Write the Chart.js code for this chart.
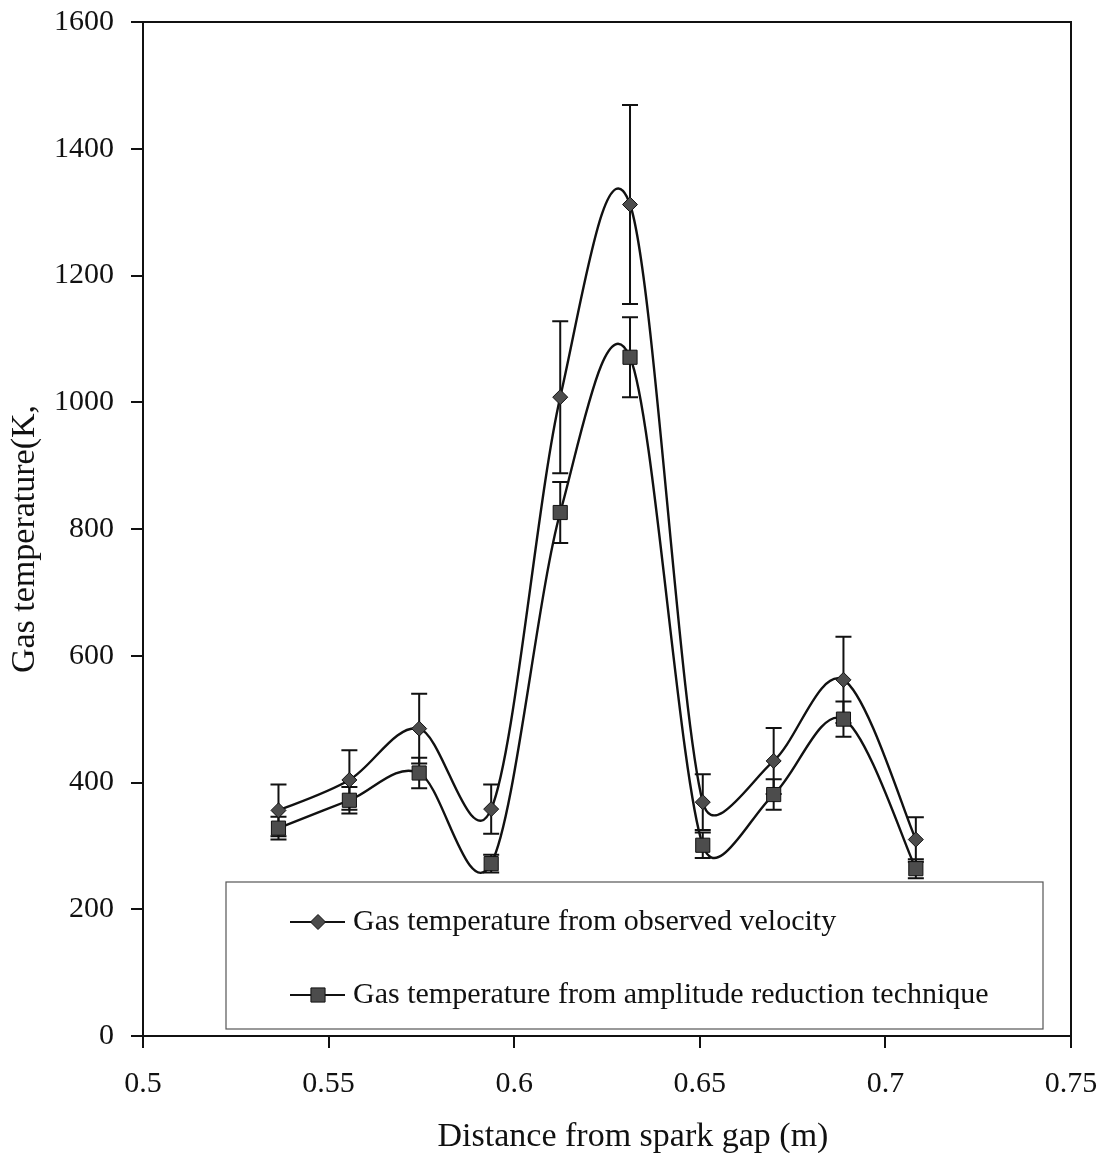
<!DOCTYPE html>
<html>
<head>
<meta charset="utf-8">
<script src="https://cdn.jsdelivr.net/npm/chart.js@4.4.1/dist/chart.umd.min.js"></script>
<style>
  html, body { margin: 0; padding: 0; background: #fff; }
  #wrap { width: 1104px; height: 1153px; position: relative; }
</style>
</head>
<body>
<div id="wrap"><canvas id="chart" width="1104" height="1153"></canvas></div>
<script>
// Measurement positions along the tube (m)
const distance = [0.5365, 0.5556, 0.5744, 0.5938, 0.6124, 0.6312, 0.6508, 0.6699, 0.6887, 0.7082];

// Gas temperature from observed velocity (K) and its error
const tempVelocity = [356, 404, 485, 358, 1008, 1312, 369, 434, 562, 310];
const errVelocity  = [41, 47, 55, 39, 120, 157, 44, 52, 68, 35];

// Gas temperature from amplitude reduction technique (K) and its error
const tempAmplitude = [328, 372, 415, 272, 826, 1071, 301, 381, 500, 264];
const errAmplitude  = [18, 21, 24, 14, 48, 63, 20, 24, 28, 15];

const seriesNames = [
  'Gas temperature from observed velocity',
  'Gas temperature from amplitude reduction technique'
];
const xTickLabels = ['0.5', '0.55', '0.6', '0.65', '0.7', '0.75'];
const yTickLabels = ['0', '200', '400', '600', '800', '1000', '1200', '1400', '1600'];
const xTitle = 'Distance from spark gap (m)';
const yTitle = 'Gas temperature(K,';

const SERIF = '"Liberation Serif", "Times New Roman", serif';
const INK = '#111';
const MARK_FILL = '#4c4c4c';

function pairs(xs, ys) { return xs.map((x, i) => ({ x: x, y: ys[i] })); }

// Spreadsheet-style smoothing: tangent (next - prev) / 6, each control
// handle limited to half the length of the segment it belongs to.
const smoothCurve = {
  id: 'smoothCurve',
  beforeDatasetsDraw(chart) {
    chart.data.datasets.forEach((ds, i) => {
      const meta = chart.getDatasetMeta(i);
      const line = meta.dataset;
      const pts = meta.data;
      const n = pts.length;
      line.updateControlPoints(chart.chartArea, 'x');
      for (let k = 0; k < n - 1; k++) {
        const p0 = pts[Math.max(k - 1, 0)];
        const p1 = pts[k];
        const p2 = pts[k + 1];
        const p3 = pts[Math.min(k + 2, n - 1)];
        const half = Math.hypot(p2.x - p1.x, p2.y - p1.y) / 2;
        let tx = p2.x - p0.x, ty = p2.y - p0.y;
        let len = Math.hypot(tx, ty);
        let f = (len / 6 > half) ? half / len : 1 / 6;
        p1.cp2x = p1.x + tx * f;
        p1.cp2y = p1.y + ty * f;
        tx = p3.x - p1.x; ty = p3.y - p1.y;
        len = Math.hypot(tx, ty);
        f = (len / 6 > half) ? half / len : 1 / 6;
        p2.cp1x = p2.x - tx * f;
        p2.cp1y = p2.y - ty * f;
      }
      line._path = undefined;
    });
  }
};

// Vertical error bars with flat caps
const errorBars = {
  id: 'errorBars',
  beforeDatasetsDraw(chart) {
    const { ctx, scales: { x, y } } = chart;
    ctx.save();
    ctx.strokeStyle = INK;
    ctx.lineWidth = 2;
    chart.data.datasets.forEach((ds) => {
      ds.data.forEach((pt, j) => {
        const e = ds.errors[j];
        const px = x.getPixelForValue(pt.x);
        const top = y.getPixelForValue(pt.y + e);
        const bot = y.getPixelForValue(pt.y - e);
        ctx.beginPath();
        ctx.moveTo(px, top); ctx.lineTo(px, bot);
        ctx.moveTo(px - 8, top); ctx.lineTo(px + 8, top);
        ctx.moveTo(px - 8, bot); ctx.lineTo(px + 8, bot);
        ctx.stroke();
      });
    });
    ctx.restore();
  }
};

// Plot frame, legend box and axis titles
const decorations = {
  id: 'decorations',
  afterDraw(chart) {
    const { ctx, chartArea: a } = chart;
    ctx.save();
    // frame on top and right
    ctx.strokeStyle = INK;
    ctx.lineWidth = 2;
    ctx.beginPath();
    ctx.moveTo(a.left - 12, a.top);
    ctx.lineTo(a.right, a.top);
    ctx.lineTo(a.right, a.bottom);
    ctx.stroke();

    // legend box
    const bx = a.left + 83, by = a.bottom - 154, bw = 817, bh = 147;
    ctx.fillStyle = '#fff';
    ctx.fillRect(bx, by, bw, bh);
    ctx.strokeStyle = '#555';
    ctx.lineWidth = 1.2;
    ctx.strokeRect(bx, by, bw, bh);

    ctx.font = '30px ' + SERIF;
    ctx.textBaseline = 'alphabetic';
    ctx.textAlign = 'left';
    chart.data.datasets.forEach((ds, i) => {
      const cy = by + 40 + i * 73;
      ctx.strokeStyle = INK;
      ctx.lineWidth = 2;
      ctx.beginPath();
      ctx.moveTo(bx + 64, cy); ctx.lineTo(bx + 119, cy);
      ctx.stroke();
      ctx.fillStyle = MARK_FILL;
      ctx.strokeStyle = INK;
      ctx.lineWidth = 1;
      Chart.helpers.drawPoint(ctx, { pointStyle: ds.pointStyle, radius: ds.pointRadius, rotation: 0, borderWidth: 1 }, bx + 92, cy);
      ctx.fillStyle = INK;
      ctx.fillText(ds.label, bx + 127, cy + 8);
    });

    // axis titles
    ctx.fillStyle = INK;
    ctx.font = '34px ' + SERIF;
    ctx.textAlign = 'center';
    ctx.textBaseline = 'middle';
    ctx.fillText(xTitle, (a.left + a.right) / 2 + 26, 1137);
    ctx.translate(25, (a.top + a.bottom) / 2 + 10);
    ctx.rotate(-Math.PI / 2);
    ctx.fillText(yTitle, 0, 0);
    ctx.restore();
  }
};

function findLabel(list, v) {
  const hit = list.find((l) => Math.abs(parseFloat(l) - v) < 1e-6);
  return hit === undefined ? '' : hit;
}

new Chart(document.getElementById('chart'), {
  type: 'line',
  data: {
    datasets: [
      {
        label: seriesNames[0],
        data: pairs(distance, tempVelocity),
        errors: errVelocity,
        borderColor: INK,
        borderWidth: 2.4,
        tension: 0.4,
        pointStyle: 'rectRot',
        pointRadius: 7.5,
        pointBackgroundColor: MARK_FILL,
        pointBorderColor: INK,
        pointBorderWidth: 1,
        fill: false
      },
      {
        label: seriesNames[1],
        data: pairs(distance, tempAmplitude),
        errors: errAmplitude,
        borderColor: INK,
        borderWidth: 2.4,
        tension: 0.4,
        pointStyle: 'rect',
        pointRadius: 10,
        pointBackgroundColor: MARK_FILL,
        pointBorderColor: INK,
        pointBorderWidth: 1,
        fill: false
      }
    ]
  },
  options: {
    responsive: false,
    animation: false,
    devicePixelRatio: 1,
    layout: { padding: { left: 0, right: 33, top: 22, bottom: 0 } },
    plugins: { legend: { display: false }, tooltip: { enabled: false } },
    scales: {
      x: {
        type: 'linear',
        min: 0.5,
        max: 0.75,
        afterFit(s) { s.height = 117; s.paddingLeft = 0; s.paddingRight = 0; },
        ticks: {
          stepSize: 0.05,
          autoSkip: false,
          maxRotation: 0,
          padding: 18,
          color: INK,
          font: { family: SERIF, size: 30 },
          callback: (v) => findLabel(xTickLabels, v)
        },
        grid: { drawOnChartArea: false, drawTicks: true, tickLength: 12, color: INK, lineWidth: 2 },
        border: { color: INK, width: 2 }
      },
      y: {
        type: 'linear',
        min: 0,
        max: 1600,
        afterFit(s) { s.width = 143; s.paddingTop = 0; s.paddingBottom = 0; },
        ticks: {
          stepSize: 200,
          padding: 17,
          color: INK,
          font: { family: SERIF, size: 30 },
          callback: (v) => findLabel(yTickLabels, v)
        },
        grid: { drawOnChartArea: false, drawTicks: true, tickLength: 12, color: INK, lineWidth: 2 },
        border: { color: INK, width: 2 }
      }
    }
  },
  plugins: [smoothCurve, errorBars, decorations]
});
</script>
</body>
</html>
